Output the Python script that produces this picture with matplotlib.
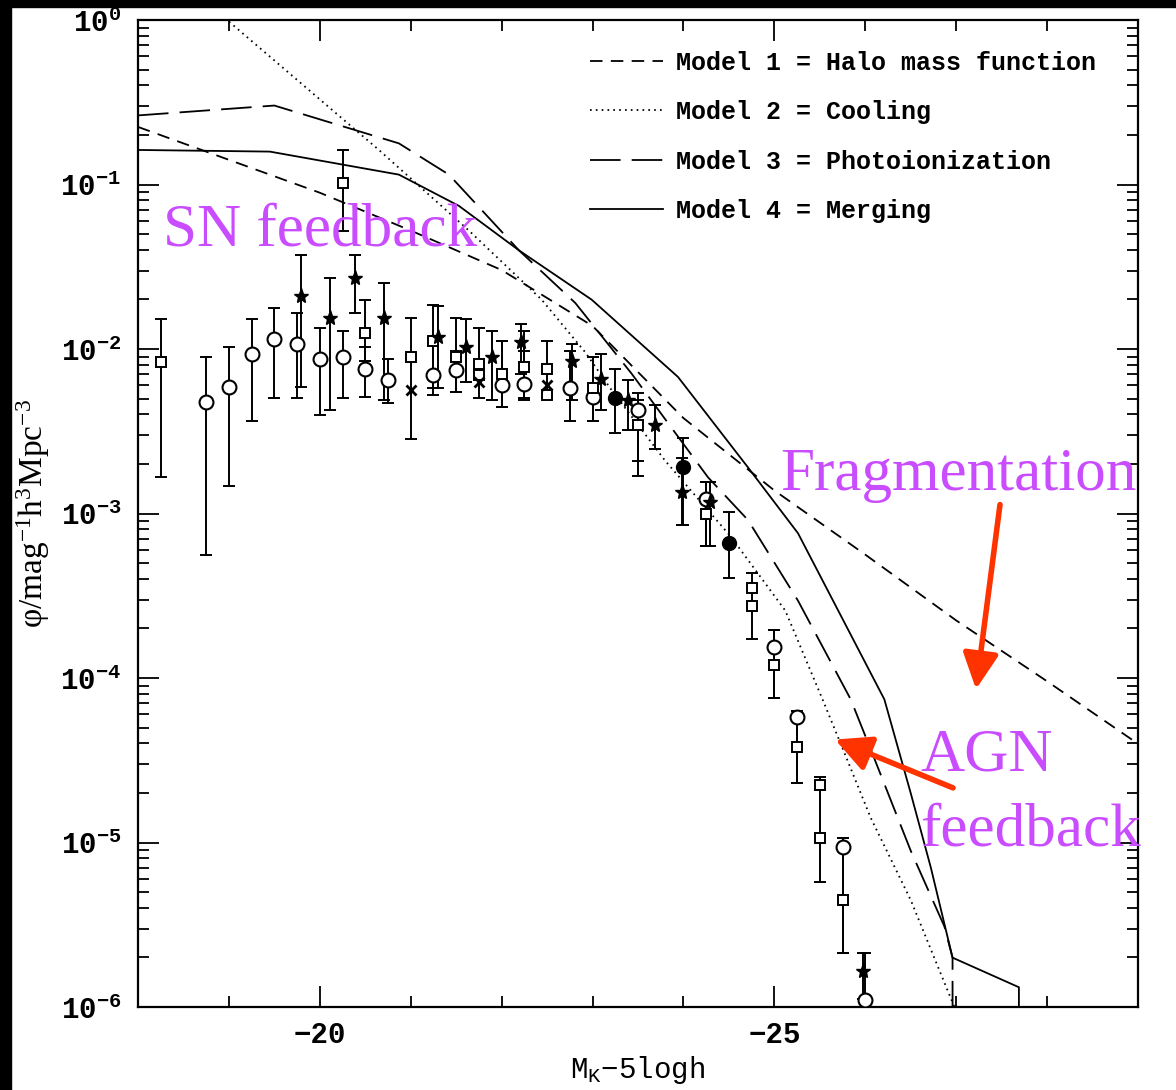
import matplotlib.pyplot as plt
import numpy as np
from matplotlib.patches import Rectangle
from matplotlib.ticker import FixedLocator, MultipleLocator, FuncFormatter, NullFormatter

plt.rcParams['font.family'] = 'Liberation Mono'
plt.rcParams['font.weight'] = 'bold'
plt.rcParams['mathtext.fontset'] = 'custom'
plt.rcParams['mathtext.rm'] = 'Liberation Mono:bold'
plt.rcParams['lines.scale_dashes'] = False

# ---- model curves: absolute magnitude and log10(phi) ----
m1_mag = [-18, -19, -20, -21, -22, -23, -24, -25, -26, -27, -28, -29]
m1_logphi = [-0.65, -0.85, -1.05, -1.28, -1.52, -1.86, -2.42, -2.86, -3.25, -3.65, -4.02, -4.40]

m2_mag = [-18.3, -18.98, -20.65, -21.64, -22.44, -22.92, -23.21, -23.80, -24.52, -25.12,
          -25.53, -25.73, -26.06, -26.50, -26.98, -27.0]
m2_logphi = [0.32, 0.0, -0.79, -1.28, -1.70, -2.02, -2.25, -2.68, -3.14, -3.59,
             -4.13, -4.40, -4.85, -5.35, -6.0, -8.0]

m3_mag = [-18.0, -19.5, -20.87, -21.42, -22.19, -22.81, -23.43, -24.27, -24.71, -25.26,
          -25.84, -26.10, -26.50, -26.87, -26.96, -26.96]
m3_logphi = [-0.58, -0.52, -0.75, -0.94, -1.40, -1.72, -2.15, -2.78, -3.04, -3.53,
             -4.13, -4.49, -5.05, -5.51, -5.70, -8.0]

m4_mag = [-18.0, -19.45, -20.87, -21.53, -22.19, -22.99, -23.94, -24.71, -25.26, -26.21,
          -26.50, -26.72, -26.96, -27.69, -27.69]
m4_logphi = [-0.79, -0.80, -0.94, -1.13, -1.40, -1.70, -2.17, -2.72, -3.12, -4.13,
             -4.70, -5.15, -5.70, -5.88, -8.0]

model_labels = ['Model 1 = Halo mass function', 'Model 2 = Cooling',
                'Model 3 = Photoionization', 'Model 4 = Merging']

# ---- observed luminosity function points (log10 phi, lower and upper bounds) ----
circ_mag = [-18.75, -19.0, -19.25, -19.5, -19.75, -20.0, -20.25, -20.5, -20.75, -21.25, -21.5,
            -22.0, -22.25, -22.75, -23.0, -23.5, -24.25, -25.0, -25.25, -25.75, -26.0]
circ_log = [-2.32, -2.23, -2.03, -1.94, -1.97, -2.06, -2.05, -2.12, -2.19, -2.16, -2.13,
            -2.22, -2.21, -2.24, -2.29, -2.37, -2.91, -3.81, -4.24, -5.03, -5.96]
circ_lo = [-3.25, -2.83, -2.44, -2.30, -2.30, -2.40, -2.30, -2.29, -2.33, -2.28, -2.26,
           -2.35, -2.31, -2.44, -2.44, -2.68, -3.20, -4.12, -4.64, -5.67, -6.30]
circ_hi = [-2.05, -1.99, -1.82, -1.75, -1.78, -1.87, -1.89, -1.99, -2.06, -1.98, -2.01,
           -1.95, -2.01, -2.01, -2.05, -2.27, -2.81, -3.71, -4.20, -4.97, -5.67]

fcirc_mag = [-23.25, -24.0, -24.5]
fcirc_log = [-2.30, -2.72, -3.18]
fcirc_lo = [-2.51, -3.07, -3.39]
fcirc_hi = [-2.12, -2.54, -2.99]

sq_mag = [-18.25, -20.25, -20.5, -21.0, -21.25, -21.5, -21.75, -22.0, -22.25, -22.5, -23.0,
          -23.5, -24.25, -24.75, -25.0, -25.25, -25.5, -25.75]
sq_log = [-2.08, -0.99, -1.90, -2.05, -1.95, -2.05, -2.09, -2.15, -2.11, -2.12, -2.24,
          -2.46, -3.00, -3.45, -3.92, -4.42, -4.65, -5.35]
sq_lo = [-2.78, -1.28, -2.07, -2.55, -2.24, -2.26, -2.30, -2.35, -2.30, -2.30, -2.44,
         -2.77, -3.20, -3.76, -4.12, -4.64, -5.24, -5.67]
sq_hi = [-1.82, -0.79, -1.70, -1.81, -1.73, -1.81, -1.87, -1.95, -1.89, -1.95, -2.05,
         -2.31, -2.81, -3.36, -3.71, -4.20, -4.60, -4.97]

sq2_mag = [-21.75, -22.5, -24.75, -25.5]
sq2_log = [-2.16, -2.28, -3.56, -4.97]

star_mag = [-19.79, -20.11, -20.39, -20.71, -21.30, -21.61, -21.89, -22.21, -22.77, -23.09,
            -23.39, -23.69, -23.98, -24.29, -25.97]
star_log = [-1.68, -1.81, -1.57, -1.81, -1.93, -1.99, -2.05, -1.96, -2.07, -2.18,
            -2.31, -2.46, -2.87, -2.93, -5.78]
star_lo = [-2.23, -2.37, -1.78, -2.31, -2.24, -2.20, -2.31, -2.15, -2.31, -2.37,
           -2.49, -2.61, -3.07, -3.20, -5.95]
star_hi = [-1.43, -1.57, -1.43, -1.60, -1.74, -1.82, -1.89, -1.85, -1.97, -2.03,
           -2.19, -2.34, -2.66, -2.81, -5.67]

cross_mag = [-21.0, -21.75, -22.5]
cross_log = [-2.25, -2.20, -2.22]

y_decades = [0, -1, -2, -3, -4, -5, -6]

fig = plt.figure(figsize=(11.76, 10.90), dpi=100)
ax = fig.add_axes([138 / 1176, 1 - 1007 / 1090, 1000 / 1176, 987 / 1090])


def pw(v):
    return 10.0 ** np.asarray(v, dtype=float)


def with_errors(mag, logv, lo, hi, **kw):
    y = pw(logv)
    yerr = [y - pw(lo), pw(hi) - y]
    ax.errorbar(mag, y, yerr=yerr, fmt='none', ecolor='black', elinewidth=1.4,
                capsize=4.5, capthick=1.4, zorder=3)
    ax.plot(mag, y, linestyle='none', zorder=4, **kw)


with_errors(circ_mag, circ_log, circ_lo, circ_hi, marker='o', ms=10, mfc='white', mec='black', mew=1.5)
with_errors(sq_mag, sq_log, sq_lo, sq_hi, marker='s', ms=7, mfc='white', mec='black', mew=1.4)
with_errors(star_mag, star_log, star_lo, star_hi, marker='*', ms=11, mfc='black', mec='black')
with_errors(fcirc_mag, fcirc_log, fcirc_lo, fcirc_hi, marker='o', ms=10, mfc='black', mec='black')
ax.plot(sq2_mag, pw(sq2_log), linestyle='none', marker='s', ms=7, mfc='white', mec='black', mew=1.4, zorder=4)
ax.plot(cross_mag, pw(cross_log), linestyle='none', marker='x', ms=7, mec='black', mew=2, zorder=4)

lw = 1.3
ax.plot(m1_mag, pw(m1_logphi), color='black', lw=lw, dashes=(9, 6), label=model_labels[0])
ax.plot(m2_mag, pw(m2_logphi), color='black', lw=lw, dashes=(1.2, 3), label=model_labels[1])
ax.plot(m3_mag, pw(m3_logphi), color='black', lw=lw, dashes=(22, 8), label=model_labels[2])
ax.plot(m4_mag, pw(m4_logphi), color='black', lw=lw, label=model_labels[3])

ax.set_yscale('log')
ax.set_xlim(-18, -29)
ax.set_ylim(1e-6, 1)

# decade ticks with labels, 2..9 minor ticks in between
minor_y = [s * 10.0 ** d for d in y_decades[1:] for s in range(2, 10)]
ax.xaxis.set_major_locator(FixedLocator([-20, -25]))
ax.xaxis.set_minor_locator(MultipleLocator(1))
ax.yaxis.set_major_locator(FixedLocator(pw(y_decades)))
ax.yaxis.set_minor_locator(FixedLocator(minor_y))
ax.yaxis.set_minor_formatter(NullFormatter())
ax.yaxis.set_major_formatter(FuncFormatter(
    lambda v, p: r'$\mathregular{10^{%d}}$' % int(round(np.log10(v)))))

ax.tick_params(which='both', direction='in', top=True, right=True, width=1.3, colors='black')
ax.tick_params(which='major', length=15)
ax.tick_params(which='minor', length=8)
ax.tick_params(axis='y', which='major', pad=12, labelsize=21)
ax.tick_params(axis='x', which='major', pad=10, labelsize=21)
for s in ax.spines.values():
    s.set_linewidth(1.6)

ax.set_xlabel(r'$\mathregular{M_K}$−5logh', fontsize=21, labelpad=4)
ax.set_ylabel(r'$\mathregular{φ/mag^{-1}h^{3}Mpc^{-3}}$', fontsize=24,
              fontfamily='Liberation Serif', fontweight='normal', labelpad=6)

leg = ax.legend(loc='upper left', bbox_to_anchor=(0.452, 0.969), frameon=False,
                fontsize=18, handlelength=2.9, handletextpad=0.55, labelspacing=1.02,
                borderpad=0, borderaxespad=0)

# annotations
pink = '#c94cff'
red = '#ff3300'
tkw = dict(transform=ax.transAxes, color=pink, fontsize=44, fontfamily='Liberation Serif',
           fontweight='normal', va='baseline', ha='left', zorder=6, clip_on=False)
ax.text(0.025, 0.772, 'SN feedback', **tkw)
ax.text(0.642, 0.524, 'Fragmentation', **tkw)
ax.text(0.782, 0.240, 'AGN', **tkw)
ax.text(0.782, 0.164, 'feedback', **tkw)

akw = dict(arrowstyle='-|>,head_length=0.9,head_width=0.45', color=red, lw=4,
           mutation_scale=24, shrinkA=0, shrinkB=0)
ax.annotate('', xy=(0.838, 0.322), xytext=(0.862, 0.509), xycoords='axes fraction',
            arrowprops=akw, zorder=7)
ax.annotate('', xy=(0.697, 0.271), xytext=(0.815, 0.222), xycoords='axes fraction',
            arrowprops=akw, zorder=7)

# dark frame strips along the top and left edges
fig.patches.append(Rectangle((0, 0), 11 / 1176, 1, transform=fig.transFigure,
                             color='black', zorder=10))
fig.patches.append(Rectangle((0, 1 - 7 / 1090), 1, 7 / 1090, transform=fig.transFigure,
                             color='black', zorder=10))

fig.savefig('out.png', dpi=100)
